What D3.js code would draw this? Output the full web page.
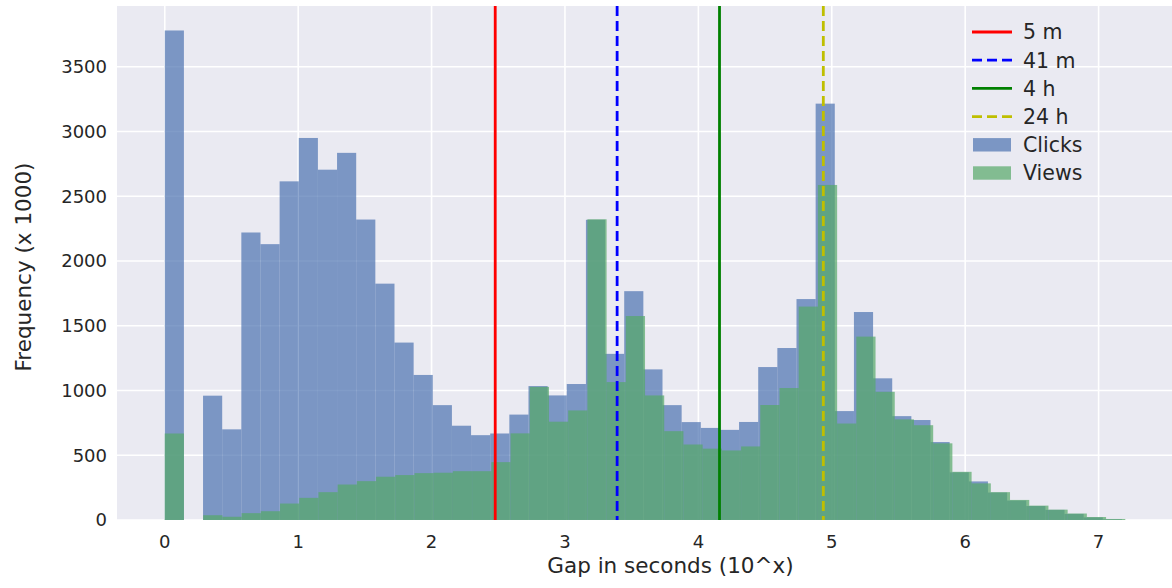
<!DOCTYPE html>
<html>
<head>
<meta charset="utf-8">
<script src="https://cdn.jsdelivr.net/npm/d3@7"></script>
<style>
  html, body { margin: 0; padding: 0; background: #fff; }
  svg { display: block; font-family: "DejaVu Sans", sans-serif; }
  .grid line { stroke: #fff; stroke-width: 1.6; }
  .tick-label { fill: #262626; font-size: 18px; }
  .axis-title { fill: #262626; font-size: 21.5px; }
  .legend text { fill: #262626; font-size: 20.5px; }
</style>
</head>
<body>
<svg id="chart"></svg>
<script>
// histogram counts (log10 of gap in seconds), 50 bins each
const clicksRange = [0, 7.175];
const clicksCounts = [
  3780, 0, 960, 700, 2220, 2130, 2615, 2950, 2705, 2835,
  2320, 1825, 1370, 1120, 887, 728, 655, 668, 814, 1034,
  962, 1050, 2318, 1283, 1767, 1163, 887, 756, 711, 696,
  757, 1181, 1328, 1706, 3215, 841, 1606, 1094, 802, 772,
  602, 368, 298, 212, 150, 108, 78, 47, 20, 5
];
const viewsRange = [0, 7.2];
const viewsCounts = [
  668, 0, 37, 25, 53, 68, 127, 171, 215, 274,
  300, 334, 347, 362, 365, 377, 377, 447, 669, 1028,
  759, 846, 2322, 1065, 1575, 962, 686, 583, 551, 537,
  568, 888, 1019, 1648, 2587, 745, 1416, 990, 777, 732,
  592, 372, 283, 215, 155, 111, 80, 50, 23, 8
];

// reference lines
const markerLabels = ['5 m', '41 m', '4 h', '24 h'];
const markerSeconds = [300, 2460, 14400, 86400];
const markerColors = ['#ff0000', '#0000ff', '#008000', '#bfbf00'];
const markerDash = [null, '10,5', null, '10,5'];

const histLabels = ['Clicks', 'Views'];
const histColors = ['#4c72b0', '#55a868'];

const xTicks = [0, 1, 2, 3, 4, 5, 6, 7];
const yTicks = [0, 500, 1000, 1500, 2000, 2500, 3000, 3500];

const width = 1172, height = 588;
const margin = { top: 6, left: 117, bottom: 68, right: -52 }; // axes runs past right edge (cropped)

const svg = d3.select('#chart').attr('width', width).attr('height', height);

const x = d3.scaleLinear()
  .domain([-0.358, 7.94])
  .range([margin.left, width - margin.right]);
const y = d3.scaleLinear()
  .domain([0, 3969])
  .range([height - margin.bottom, margin.top]);

// background
svg.append('rect')
  .attr('x', margin.left)
  .attr('y', margin.top)
  .attr('width', width - margin.right - margin.left)
  .attr('height', height - margin.bottom - margin.top)
  .attr('fill', '#eaeaf2');

// grid
const grid = svg.append('g').attr('class', 'grid');
grid.selectAll('.gx').data(xTicks).enter().append('line')
  .attr('x1', d => x(d)).attr('x2', d => x(d))
  .attr('y1', margin.top).attr('y2', height - margin.bottom);
grid.selectAll('.gy').data(yTicks).enter().append('line')
  .attr('x1', margin.left).attr('x2', width - margin.right)
  .attr('y1', d => y(d)).attr('y2', d => y(d));

// histograms
const bins = (counts, range) => {
  let w = (range[1] - range[0]) / counts.length;
  return counts.map((c, i) => ({ x0: range[0] + i * w, x1: range[0] + (i + 1) * w, count: c }));
};
const series = [bins(clicksCounts, clicksRange), bins(viewsCounts, viewsRange)];

series.forEach((s, si) => {
  svg.append('g')
    .selectAll('rect')
    .data(s.filter(d => d.count > 0))
    .enter().append('rect')
      .attr('x', d => x(d.x0))
      .attr('width', d => x(d.x1) - x(d.x0))
      .attr('y', d => y(d.count))
      .attr('height', d => y(0) - y(d.count))
      .attr('fill', histColors[si])
      .attr('fill-opacity', 0.7);
});

// vertical markers
svg.append('g')
  .selectAll('line')
  .data(markerSeconds)
  .enter().append('line')
    .attr('x1', d => x(Math.log10(d)))
    .attr('x2', d => x(Math.log10(d)))
    .attr('y1', margin.top)
    .attr('y2', height - margin.bottom)
    .attr('stroke', (d, i) => markerColors[i])
    .attr('stroke-width', 2.8)
    .attr('stroke-dasharray', (d, i) => markerDash[i]);

// tick labels
svg.append('g').selectAll('text').data(xTicks).enter().append('text')
  .attr('class', 'tick-label')
  .attr('x', d => x(d))
  .attr('y', 548)
  .attr('text-anchor', 'middle')
  .text(d => d);
svg.append('g').selectAll('text').data(yTicks).enter().append('text')
  .attr('class', 'tick-label')
  .attr('x', margin.left - 10)
  .attr('y', d => y(d))
  .attr('dy', '0.36em')
  .attr('text-anchor', 'end')
  .text(d => d);

// axis titles
svg.append('text')
  .attr('class', 'axis-title')
  .attr('x', (margin.left + width - margin.right) / 2)
  .attr('y', 573)
  .attr('text-anchor', 'middle')
  .text('Gap in seconds (10^x)');
svg.append('text')
  .attr('class', 'axis-title')
  .attr('transform', 'translate(31,267) rotate(-90)')
  .attr('text-anchor', 'middle')
  .text('Frequency (x 1000)');

// legend
const legend = svg.append('g').attr('class', 'legend').attr('transform', 'translate(972,32)');
const rowH = 28.2;
markerLabels.forEach((lab, i) => {
  let g = legend.append('g').attr('transform', `translate(0,${i * rowH})`);
  g.append('line')
    .attr('x1', 0).attr('x2', 40)
    .attr('stroke', markerColors[i])
    .attr('stroke-width', 2.8)
    .attr('stroke-dasharray', markerDash[i]);
  g.append('text').attr('x', 51).attr('dy', '0.36em').text(lab);
});
histLabels.forEach((lab, i) => {
  let g = legend.append('g').attr('transform', `translate(0,${(i + 4) * rowH})`);
  g.append('rect')
    .attr('x', 1).attr('y', -6.7).attr('width', 38).attr('height', 13.4)
    .attr('fill', histColors[i]).attr('fill-opacity', 0.7);
  g.append('text').attr('x', 51).attr('dy', '0.36em').text(lab);
});
</script>
</body>
</html>
